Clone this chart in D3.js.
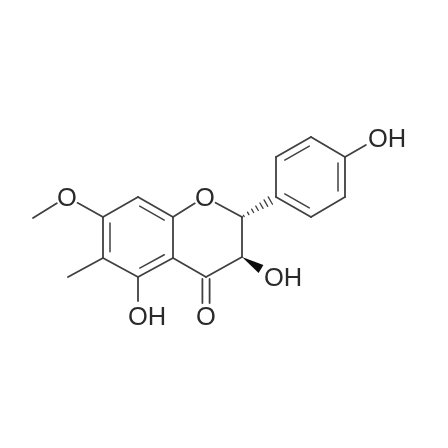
<!DOCTYPE html>
<html>
<head>
<meta charset="utf-8">
<script src="https://cdn.jsdelivr.net/npm/d3@7"></script>
<style>
  html, body { margin: 0; padding: 0; background: #fff; }
  svg { display: block; }
  text { font-family: "Liberation Sans", Arial, sans-serif; font-size: 25.5px; fill: #2c2c2c; }
</style>
</head>
<body>
<div id="chart"></div>
<script>
// Atom positions
const atomNames = ['Me1', 'OMe', 'C7', 'C8', 'C8a', 'O1', 'C2', 'C3', 'C4', 'C4a', 'C5', 'C6', 'Me6', 'O5', 'O4', 'O3', "C1'", "C2'", "C3'", "C4'", "C5'", "C6'", "O4'"];
const atomX = [33, 67, 103, 138, 173, 205, 242, 242, 206, 173, 138, 103, 68, 138, 206, 274, 276, 276, 311, 345, 345, 311, 378];
const atomY = [218, 197, 217, 197, 217, 197, 217, 257, 277, 258, 277, 258, 277, 316, 316, 277, 197, 157, 137, 157, 197, 217, 138];

// Single bonds
const singleBonds = [
  ['Me1', 'OMe'], ['OMe', 'C7'], ['C7', 'C8'], ['C8a', 'O1'], ['O1', 'C2'], ['C2', 'C3'], ['C3', 'C4'],
  ['C4', 'C4a'], ['C4a', 'C8a'], ['C5', 'C6'], ['C6', 'Me6'], ['C5', 'O5'],
  ["C1'", "C2'"], ["C3'", "C4'"], ["C5'", "C6'"], ["C4'", "O4'"]
];
// Aromatic double bonds: outer line plus an inner line toward the ring centre
const ringDoubles = [
  ['C6', 'C7', 'A'], ['C8', 'C8a', 'A'], ['C4a', 'C5', 'A'],
  ["C1'", "C6'", 'B'], ["C2'", "C3'", 'B'], ["C4'", "C5'", 'B']
];
const ringCentres = { A: ['C8', 'C5'], B: ["C3'", "C6'"] };

const labels = [
  { atom: 'OMe', text: 'O' }, { atom: 'O1', text: 'O' }, { atom: 'O4', text: 'O' },
  { atom: 'O5', text: 'OH', anchorAtO: true }, { atom: 'O3', text: 'OH', anchorAtO: true }, { atom: "O4'", text: 'OH', anchorAtO: true }
];

const width = 448, height = 448;
const strokeColor = '#404040';

const x = d3.scaleLinear().domain([0, 448]).range([0, width]);
const y = d3.scaleLinear().domain([0, 448]).range([0, height]);

const pos = {};
atomNames.forEach((n, i) => { pos[n] = [x(atomX[i]), y(atomY[i])]; });

const svg = d3.select('#chart').append('svg')
  .attr('width', width)
  .attr('height', height);

svg.append('defs').append('filter').attr('id', 'soft')
  .append('feGaussianBlur').attr('stdDeviation', 0.35);

const g = svg.append('g').attr('filter', 'url(#soft)');

// How far a bond stops short of a labelled atom
const labelGap = { OMe: 12, O1: 12, O4: 13, O5: 15, "O4'": 14, O3: 13 };

function trimmed(a, b) {
  const [x1, y1] = pos[a], [x2, y2] = pos[b];
  const len = Math.hypot(x2 - x1, y2 - y1);
  const ta = (labelGap[a] || 0) / len, tb = (labelGap[b] || 0) / len;
  return [x1 + (x2 - x1) * ta, y1 + (y2 - y1) * ta, x2 - (x2 - x1) * tb, y2 - (y2 - y1) * tb];
}

function addLine(c, w) {
  g.append('line')
    .attr('x1', c[0]).attr('y1', c[1]).attr('x2', c[2]).attr('y2', c[3])
    .attr('stroke', strokeColor).attr('stroke-width', w || 1.8).attr('stroke-linecap', 'round');
}

singleBonds.forEach(b => addLine(trimmed(b[0], b[1])));

ringDoubles.forEach(b => {
  const c = trimmed(b[0], b[1]);
  addLine(c);
  const [p, q] = ringCentres[b[2]].map(n => pos[n]);
  const cx = (p[0] + q[0]) / 2, cy = (p[1] + q[1]) / 2;
  const mx = (c[0] + c[2]) / 2, my = (c[1] + c[3]) / 2;
  const d = Math.hypot(cx - mx, cy - my);
  const ox = (cx - mx) / d * 7, oy = (cy - my) / d * 7;
  const s = 0.15;
  addLine([
    c[0] + (c[2] - c[0]) * s + ox, c[1] + (c[3] - c[1]) * s + oy,
    c[2] - (c[2] - c[0]) * s + ox, c[3] - (c[3] - c[1]) * s + oy
  ], 1.5);
});

// Carbonyl: two parallel lines
[-3.6, 3.6].forEach(off => {
  addLine([pos.C4[0] + off, pos.C4[1] + 2, pos.O4[0] + off, pos.O4[1] - 13]);
});

// Solid wedge C3 -> OH
const wedgeEnd = [x(261), y(269)];
const c3 = pos.C3;
g.append('path')
  .attr('d', d3.line()([c3, [wedgeEnd[0] + 2.4, wedgeEnd[1] - 4], [wedgeEnd[0] - 2.4, wedgeEnd[1] + 4]]))
  .attr('fill', '#111');

// Hashed wedge C2 -> C1'
const hashCount = 7;
const hashStart = pos.C2, hashEnd = [x(273), y(199)];
d3.range(hashCount).forEach(i => {
  const t = (i + 0.4) / hashCount;
  const px = hashStart[0] + (hashEnd[0] - hashStart[0]) * t;
  const py = hashStart[1] + (hashEnd[1] - hashStart[1]) * t;
  const half = 0.6 + 4 * t;
  addLine([px - half * 0.5, py - half * 0.866, px + half * 0.5, py + half * 0.866], 1.3);
});

// Atom labels
g.selectAll('text.atom')
  .data(labels)
  .join('text')
  .attr('class', 'atom')
  .attr('x', d => pos[d.atom][0] + (d.anchorAtO ? -10 : 0))
  .attr('y', d => pos[d.atom][1] + 9)
  .attr('text-anchor', d => d.anchorAtO ? 'start' : 'middle')
  .text(d => d.text);
</script>
</body>
</html>
